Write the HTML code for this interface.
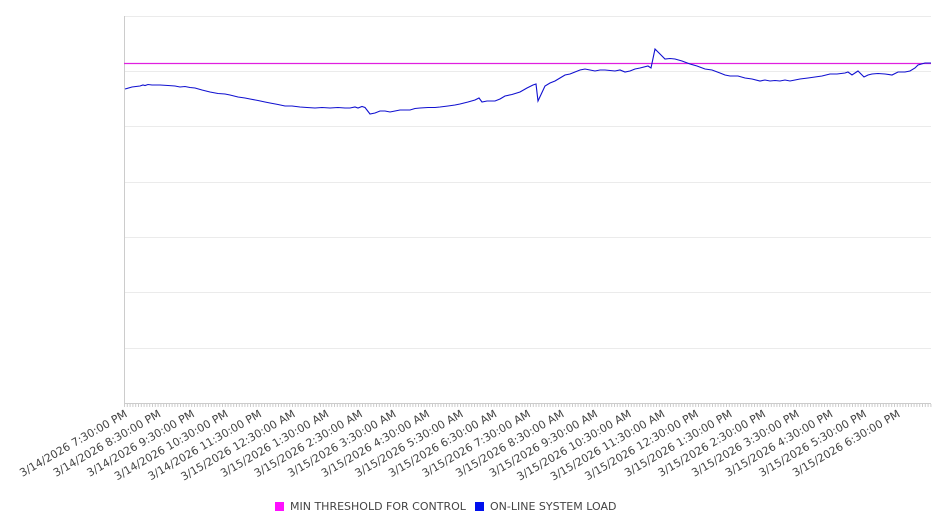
<!DOCTYPE html>
<html><head><meta charset="utf-8"><style>
html,body{margin:0;padding:0;background:#fff;}
svg{display:block;font-family:"DejaVu Sans","Liberation Sans",sans-serif;}
</style></head><body>
<svg id="s" width="946" height="526" xmlns="http://www.w3.org/2000/svg">
<g stroke="#ebebeb" stroke-width="1">
<line x1="124" y1="16.5" x2="931" y2="16.5"/>
<line x1="124" y1="71.5" x2="931" y2="71.5"/>
<line x1="124" y1="126.5" x2="931" y2="126.5"/>
<line x1="124" y1="182.5" x2="931" y2="182.5"/>
<line x1="124" y1="237.5" x2="931" y2="237.5"/>
<line x1="124" y1="292.5" x2="931" y2="292.5"/>
<line x1="124" y1="348.5" x2="931" y2="348.5"/>
</g>
<line x1="124.5" y1="16" x2="124.5" y2="404" stroke="#ccc"/>
<line x1="124" y1="403.5" x2="931" y2="403.5" stroke="#ccc"/>
<g id="ticks" stroke="#ccc" stroke-width="1"></g>
<line x1="124" y1="63.5" x2="931" y2="63.5" stroke="#e020e0" stroke-width="1.2"/>
<polyline fill="none" stroke="#1010d0" stroke-width="1.1" points="125,89 132,87 140,86 143,85 145,85.5 148,84.5 152,85 160,85 168,85.5 175,86 180,87 185,86.5 190,87.5 195,88 202,90 210,92 218,93.5 225,94 230,95 238,97 245,98 250,99 258,100.5 265,102 270,103 278,104.5 285,106 292,106 300,107 307,107.5 315,108 322,107.5 330,108 338,107.5 345,108 350,108 355,107 358,108 362,106.5 365,107.5 370,114 375,113 380,111 385,111 390,112 395,111 400,110 405,110 410,110 415,108.5 420,108 428,107.5 435,107.5 440,107 448,106 455,105 460,104 468,102 475,100 479,98 482,102 487,101 495,101 500,99 505,96 512,94.5 520,92 527,88 533,85 536,84 538,101 545,86 550,83 555,81 560,78 565,75 570,74 575,72 580,70 585,69 590,70 595,71 600,70 605,70 610,70.5 615,71 620,70 625,72 630,71 635,69 640,68 648,66 651,68 655,49 660,54 665,59 670,58.5 675,59 682,61 690,64 697,66 705,69 712,70 720,73 725,75 730,76 738,76 745,78 752,79 760,81 765,80 770,81 775,80.5 780,81 785,80 790,81 795,80 800,79 808,78 815,77 822,76 830,74 837,74 845,73 848,72 852,75 858,71 864,77 868,75 872,74 878,73.5 885,74 892,75 898,72 905,72 910,71 915,68 918,65 925,63 931,63"/>
<g id="labels" font-size="11" fill="#444"></g>
<rect x="275" y="502" width="9" height="9" fill="#ff10ff"/>
<text x="290" y="510" font-size="11" fill="#444">MIN THRESHOLD FOR CONTROL</text>
<rect x="475" y="502" width="9" height="9" fill="#0010ee"/>
<text x="490" y="510" font-size="11" fill="#444">ON-LINE SYSTEM LOAD</text>
</svg>
<script>
var ns="http://www.w3.org/2000/svg";
var t=document.getElementById("ticks");
for(var x=124.5;x<=931;x+=2.8){var l=document.createElementNS(ns,"line");l.setAttribute("x1",x);l.setAttribute("x2",x);l.setAttribute("y1",404);l.setAttribute("y2",407);t.appendChild(l);}
var labs=["3/14/2026 7:30:00 PM","3/14/2026 8:30:00 PM","3/14/2026 9:30:00 PM","3/14/2026 10:30:00 PM","3/14/2026 11:30:00 PM","3/15/2026 12:30:00 AM","3/15/2026 1:30:00 AM","3/15/2026 2:30:00 AM","3/15/2026 3:30:00 AM","3/15/2026 4:30:00 AM","3/15/2026 5:30:00 AM","3/15/2026 6:30:00 AM","3/15/2026 7:30:00 AM","3/15/2026 8:30:00 AM","3/15/2026 9:30:00 AM","3/15/2026 10:30:00 AM","3/15/2026 11:30:00 AM","3/15/2026 12:30:00 PM","3/15/2026 1:30:00 PM","3/15/2026 2:30:00 PM","3/15/2026 3:30:00 PM","3/15/2026 4:30:00 PM","3/15/2026 5:30:00 PM","3/15/2026 6:30:00 PM"];
var g=document.getElementById("labels");
labs.forEach(function(s,k){var x=128+33.6*k,y=416;var e=document.createElementNS(ns,"text");e.setAttribute("x",x);e.setAttribute("y",y);e.setAttribute("text-anchor","end");e.setAttribute("transform","rotate(-30 "+x+" "+y+")");e.textContent=s;g.appendChild(e);});
</script>
</body></html>
